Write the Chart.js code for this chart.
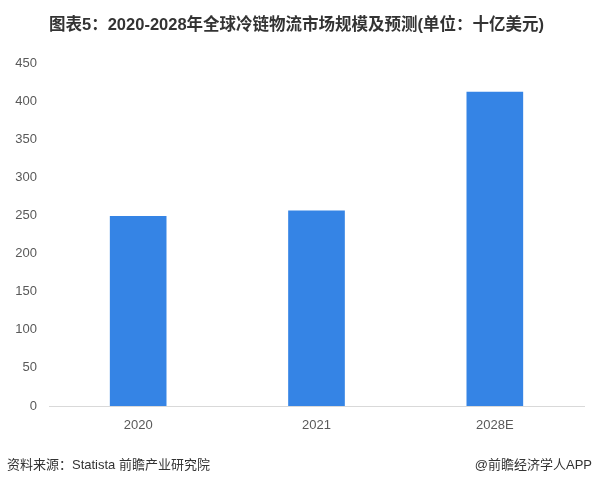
<!DOCTYPE html>
<html>
<head>
<meta charset="utf-8">
<script src="https://cdn.jsdelivr.net/npm/chart.js@4"></script>
<style>
  body { margin: 0; background: #fff; }
  #wrap { position: relative; width: 592px; height: 484px; font-family: "Liberation Sans", "Noto Sans CJK SC", sans-serif; }
  #title { position: absolute; top: 11px; left: 49px; white-space: nowrap; font-size: 16.5px; font-weight: bold; color: #333; }
  #source { position: absolute; left: 7px; top: 454px; font-size: 13px; color: #333; }
  #brand { position: absolute; right: 0px; top: 454px; font-size: 13px; color: #333; }
  canvas { position: absolute; left: 0; top: 0; }
</style>
</head>
<body>
<div id="wrap">
  <canvas id="myChart" width="592" height="484"></canvas>
  <div id="title">图表5：2020-2028年全球冷链物流市场规模及预测(单位：十亿美元)</div>
  <div id="source">资料来源：Statista 前瞻产业研究院</div>
  <div id="brand">@前瞻经济学人APP</div>
</div>
<script>
const categories = ["2020", "2021", "2028E"];
const marketSize = [249, 256, 412];
const yTicks = [0, 50, 100, 150, 200, 250, 300, 350, 400, 450];

const ctx = document.getElementById("myChart").getContext("2d");

new Chart(ctx, {
  type: "bar",
  data: {
    labels: categories,
    datasets: [
      {
        data: marketSize,
        backgroundColor: "#3584e5",
        barThickness: 56,
      },
    ],
  },
  options: {
    responsive: false,
    animation: false,
    layout: { padding: { top: 63, right: 8, bottom: 48, left: 0 } },
    plugins: {
      legend: { display: false },
      tooltip: { enabled: false },
    },
    scales: {
      x: {
        grid: { display: false },
        border: { color: "#d9d9d9" },
        ticks: {
          color: "#595959",
          font: { family: "Liberation Sans", size: 13 },
          padding: 4,
        },
        afterFit: (s) => { s.height = 30; },
      },
      y: {
        min: 0,
        max: 450,
        grid: { display: false, drawTicks: false },
        border: { display: false },
        afterBuildTicks: (s) => { s.ticks = yTicks.map((v) => ({ value: v })); },
        ticks: {
          color: "#595959",
          font: { family: "Liberation Sans", size: 13 },
          padding: 12,
        },
        afterFit: (s) => { s.width = 49; },
      },
    },
  },
});
</script>
</body>
</html>
